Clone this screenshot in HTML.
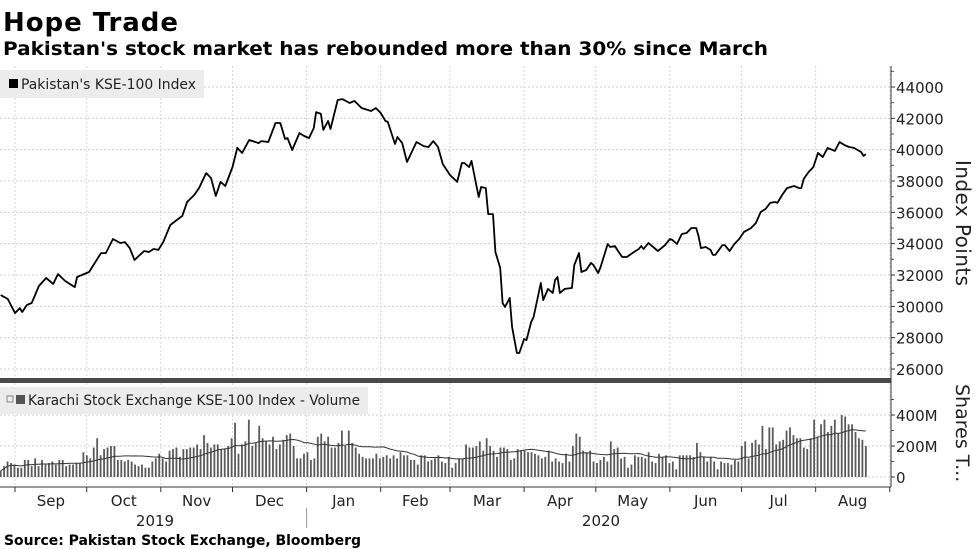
<!DOCTYPE html>
<html><head><meta charset="utf-8">
<style>
html,body{margin:0;padding:0;background:#fff;}
svg{display:block;font-family:"DejaVu Sans","Liberation Sans",sans-serif;}
</style></head>
<body>
<svg id="chart" width="977" height="549" viewBox="0 0 977 549" xmlns="http://www.w3.org/2000/svg">
  <text x="3" y="31" font-size="26" font-weight="bold" fill="#000" textLength="175">Hope Trade</text>
  <text x="3" y="55" font-size="19" font-weight="bold" fill="#000" textLength="765" lengthAdjust="spacingAndGlyphs">Pakistan's stock market has rebounded more than 30% since March</text>
  <g id="grid"></g>
  <rect x="0" y="70" width="204" height="28" fill="#ececec"/>
  <rect x="9" y="79" width="9" height="9" fill="#000"/>
  <text x="21" y="89" font-size="14" fill="#222" textLength="175" lengthAdjust="spacingAndGlyphs">Pakistan's KSE-100 Index</text>
  <rect x="0" y="387" width="368" height="27" fill="#ececec"/>
  <rect x="7" y="396" width="6" height="6" fill="none" stroke="#888" stroke-width="1"/>
  <rect x="16" y="395" width="9" height="9" fill="#555"/>
  <text x="28" y="405" font-size="14" fill="#222" textLength="332" lengthAdjust="spacingAndGlyphs">Karachi Stock Exchange KSE-100 Index - Volume</text>
  <g id="vol"></g>
  <g id="idx"></g>
  <rect x="0" y="378" width="891" height="5" fill="#4a4a4a"/>
  <g id="axes"></g>
  <text transform="translate(956,160) rotate(90)" font-size="20" fill="#222" textLength="126">Index Points</text>
  <text transform="translate(956,384) rotate(90)" font-size="19" fill="#222">Shares T...</text>
  <text x="4" y="545" font-size="14" font-weight="bold" fill="#000" textLength="357">Source: Pakistan Stock Exchange, Bloomberg</text>
</svg>
<script>
// Index data: day = days since 2019-08-01
const idxDays = [25,28,31,33,34,36,38,41,44,47,49,52,56,57,62,67,69,72,75,77,79,81,85,87,89,91,93,96,101,103,106,108,111,113,115,117,119,122,124,126,129,133,134,137,140,142,144,145,147,150,152,154,156,157,159,160,162,163,166,168,171,173,176,180,182,184,186,187,190,191,193,195,199,202,204,206,208,210,213,216,218,219,221,222,225,226,228,229,231,232,234,235,236,238,239,241,242,244,245,247,248,251,252,254,256,257,258,259,261,264,265,267,268,270,272,273,275,276,279,280,282,283,285,287,290,292,293,294,296,300,303,305,306,308,310,312,314,316,317,318,320,322,323,324,327,328,330,332,334,336,339,341,343,345,347,349,350,352,354,357,359,360,361,363,365,367,369,371,374,376,378,380,382,385,386,387];
const idxValues = [30720,30470,29570,29890,29640,30090,30210,31300,31810,31430,32060,31620,31230,31870,32190,33400,33400,34300,34040,34100,33720,32960,33530,33470,33660,33600,34100,35190,35770,36660,37110,37550,38510,38190,37040,37940,37680,38890,40110,39790,40620,40420,40550,40490,41700,41700,40680,40740,39980,41060,40870,40740,41380,42400,42280,41260,41830,41320,43170,43230,42980,43110,42660,42470,42660,42340,41830,41770,40360,40810,40420,39210,40490,40230,40170,40550,40170,39080,38380,37940,39150,39150,38890,39280,36980,37620,37550,35890,35890,33470,32450,30210,29960,30530,28680,27020,27020,27910,27850,29000,29320,31490,30400,31110,30850,31680,31870,30850,31110,31170,32640,33400,32190,32320,32770,32640,32130,32510,33980,33790,33850,33600,33150,33150,33470,33660,33850,33660,34040,33530,33910,34300,34240,33980,34620,34680,35000,35000,34490,33720,33790,33600,33280,33280,33910,33910,33530,33980,34300,34750,35000,35320,36020,36210,36600,36660,36600,37110,37550,37680,37550,37550,38130,38570,38890,39790,39530,40110,39920,40490,40300,40170,40110,39850,39600,39720];
// Daily volume in millions of shares
const volValues = [40,70,100,90,80,60,60,110,110,70,120,70,110,80,90,100,80,110,110,70,80,80,90,90,
160,140,120,190,250,140,180,190,200,200,110,110,100,110,100,80,70,80,60,60,100,120,150,120,100,
170,180,190,130,180,180,190,190,210,180,270,220,190,210,210,180,180,200,250,
350,150,210,230,370,200,220,330,250,230,210,260,180,210,240,270,280,200,120,120,150,160,110,120,
260,280,230,260,190,190,220,300,200,300,220,190,150,130,120,120,120,150,120,130,140,120,
140,120,160,140,140,110,110,80,140,140,100,110,120,140,100,90,130,60,90,120,120,
210,190,190,200,230,170,250,200,170,130,190,190,180,110,120,180,170,170,160,160,150,140,
120,130,170,100,120,100,90,150,100,200,280,260,170,160,170,100,90,110,130,100,230,180,190,120,
130,60,80,140,130,130,120,160,100,90,150,130,140,90,100,
50,140,140,140,140,130,220,160,130,100,130,100,50,100,90,90,80,110,100,200,230,
120,220,240,210,330,180,320,320,210,230,240,300,320,270,250,250,190,180,250,
370,260,340,370,290,330,370,280,400,390,340,340,290,250,240,200];
const idxTicks = [26000,28000,30000,32000,34000,36000,38000,40000,42000,44000];
const volTicks = [0,200,400];
const volTickLabels = ["0","200M","400M"];
const monthDays = [31,61,92,122,153,184,213,244,274,305,335,366,397];
const monthLabels = ["Sep","Oct","Nov","Dec","Jan","Feb","Mar","Apr","May","Jun","Jul","Aug"];
const yearLabels = ["2019","2020"];

const NS = "http://www.w3.org/2000/svg";
const xDay = d => 15 + (d - 31) * 2.39;
const yIdx = v => 87 + (44000 - v) * (282 / 18000);
const yVol = v => 477 - v * 0.155;
function mk(tag, attrs, parent) {
  const e = document.createElementNS(NS, tag);
  for (const k in attrs) e.setAttribute(k, attrs[k]);
  parent.appendChild(e);
  return e;
}
const grid = document.getElementById('grid');
const axes = document.getElementById('axes');
const idxG = document.getElementById('idx');
const volG = document.getElementById('vol');

idxTicks.forEach(t => {
  const y = yIdx(t);
  const l = mk('line', {x1: 0, x2: 891, y1: y, y2: y, stroke: '#cfcfcf', 'stroke-dasharray': '2,2', 'stroke-width': 1}, grid);
  
  
  const tk = mk('line', {x1: 891, x2: 895, y1: y, y2: y, stroke: '#333'}, axes);
  
  
  const tx = mk('text', {x: 896, y: y + 6, 'font-size': 15, fill: '#222'}, axes);
  tx.textContent = t;
  
  
});
for (let v = 27000; v <= 45000; v += 2000) {
  const y = yIdx(v);
  const mt = mk('line', {x1: 891, x2: 894, y1: y, y2: y, stroke: '#555'}, axes);
  
  
}
volTicks.forEach((t, i) => {
  const y = yVol(t);
  const l = mk('line', {x1: 0, x2: 891, y1: y, y2: y, stroke: '#cfcfcf', 'stroke-dasharray': '2,2'}, grid);
  
  
  const tk = mk('line', {x1: 891, x2: 895, y1: y, y2: y, stroke: '#333'}, axes);
  
  
  const tx = mk('text', {x: 896, y: y + 6, 'font-size': 15, fill: '#222'}, axes);
  tx.textContent = volTickLabels[i];
  
  
});
[100, 300, 500].forEach(t => {
  const y = yVol(t);
  const mt = mk('line', {x1: 891, x2: 894, y1: y, y2: y, stroke: '#555'}, axes);
  
  
});
monthDays.forEach(d => {
  const x = xDay(d);
  if (x > 891) return;
  const l1 = mk('line', {x1: x, x2: x, y1: 66, y2: 378, stroke: '#d6d6d6', 'stroke-dasharray': '2,2'}, grid);
  
  
  const l2 = mk('line', {x1: x, x2: x, y1: 383, y2: 487, stroke: '#d6d6d6', 'stroke-dasharray': '2,2'}, grid);
  
  
  const tk = mk('line', {x1: x, x2: x, y1: 487, y2: 492, stroke: '#333'}, axes);
  
  
});
monthLabels.forEach((m, i) => {
  const x = (xDay(monthDays[i]) + xDay(monthDays[i + 1])) / 2;
  const t = mk('text', {x: x, y: 506, 'font-size': 15, fill: '#222', 'text-anchor': 'middle'}, axes);
  t.textContent = m;
  
  
});
const y1 = mk('text', {x: 155, y: 526, 'font-size': 15, fill: '#222', 'text-anchor': 'middle'}, axes);
y1.textContent = yearLabels[0];


const y2 = mk('text', {x: 601, y: 526, 'font-size': 15, fill: '#222', 'text-anchor': 'middle'}, axes);
y2.textContent = yearLabels[1];


const ysep = mk('line', {x1: xDay(153), x2: xDay(153), y1: 508, y2: 528, stroke: '#999'}, axes);


const ax1 = mk('line', {x1: 891, x2: 891, y1: 66, y2: 487, stroke: '#333'}, axes);


const ax2 = mk('line', {x1: 0, x2: 891, y1: 487, y2: 487, stroke: '#333'}, axes);



const n = volValues.length;
const dayAt = i => 25 + i * (387 - 25) / (n - 1);
volValues.forEach((v, i) => {
  const x = xDay(dayAt(i));
  const b = mk('rect', {x: x - 0.9, y: yVol(v), width: 1.8, height: yVol(0) - yVol(v), fill: '#5a5a5a'}, volG);
  
  
});
let maPts = [];
volValues.forEach((v, i) => {
  const s = Math.max(0, i - 19);
  const w = volValues.slice(s, i + 1);
  const m = w.reduce((a, b) => a + b, 0) / w.length;
  maPts.push(xDay(dayAt(i)).toFixed(1) + ',' + yVol(m).toFixed(1));
});
const ma = mk('polyline', {points: maPts.join(' '), fill: 'none', stroke: '#333', 'stroke-width': 1}, volG);



const pts = idxValues.map((v, i) => xDay(idxDays[i]).toFixed(1) + ',' + yIdx(v).toFixed(1)).join(' ');
const line = mk('polyline', {points: pts, fill: 'none', stroke: '#000', 'stroke-width': 1.8, 'stroke-linejoin': 'round'}, idxG);


</script>
</body></html>
